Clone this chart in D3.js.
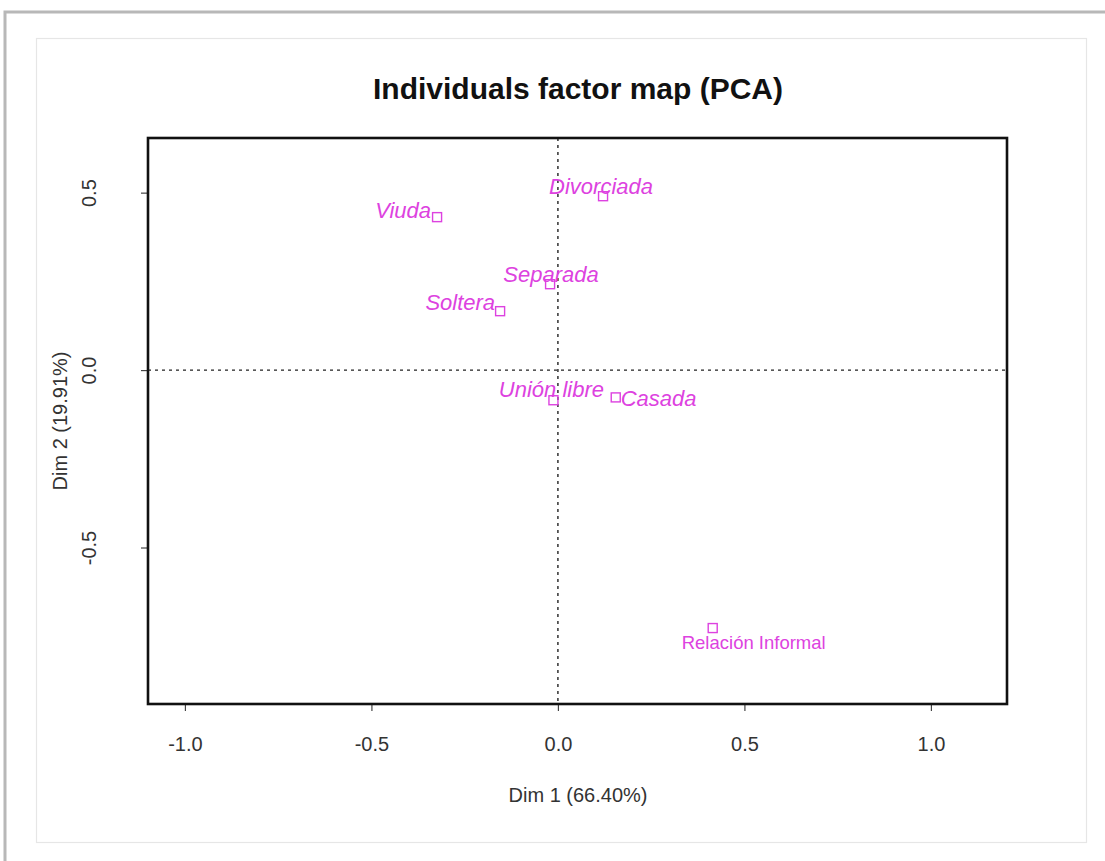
<!DOCTYPE html>
<html>
<head>
<meta charset="utf-8">
<script src="https://cdn.jsdelivr.net/npm/d3@7"></script>
<style>
  html, body { margin: 0; padding: 0; background: #fff; }
  svg { display: block; font-family: "Liberation Sans", Arial, sans-serif; }
</style>
</head>
<body>
<div id="svg-container"></div>
<script>
////////////////////////////////////////////////////////////////////
////////////////////////////  Data  ////////////////////////////////
const names = ["Viuda", "Divorciada", "Separada", "Soltera", "Unión libre", "Casada", "Relación Informal"];
const dim1 = [-0.324, 0.121, -0.021, -0.155, -0.012, 0.155, 0.415];
const dim2 = [0.431, 0.49, 0.242, 0.166, -0.085, -0.077, -0.727];
const supplementary = [true, true, true, true, true, true, false];

const xTicks = [-1.0, -0.5, 0.0, 0.5, 1.0];
const yTicks = [-0.5, 0.0, 0.5];

const title = "Individuals factor map (PCA)";
const xTitle = "Dim 1 (66.40%)";
const yTitle = "Dim 2 (19.91%)";

// label placement (anchor + offset from the point, px)
const labelPlace = [
  { anchor: "end", dx: -6, dy: 1 },
  { anchor: "middle", dx: -2, dy: -2 },
  { anchor: "middle", dx: 1, dy: -2 },
  { anchor: "end", dx: -5, dy: -1 },
  { anchor: "middle", dx: -2, dy: -3 },
  { anchor: "start", dx: 5, dy: 9 },
  { anchor: "middle", dx: 41, dy: 21 }
];

const data = names.map((n, i) => ({ name: n, x: dim1[i], y: dim2[i], sup: supplementary[i], ...labelPlace[i] }));

////////////////////////////////////////////////////////////////////
////////////////////////////  Init  ////////////////////////////////
const width = 1105, height = 861;
const svg = d3.select("#svg-container").append("svg")
  .attr("width", width).attr("height", height);

const magenta = "#dd42e0";
const axisText = "#333";

// card shadow + inner frame
svg.append("rect").attr("x", 5).attr("y", 12).attr("width", width).attr("height", height)
  .attr("fill", "none").attr("stroke", "#9a9a9a").attr("stroke-width", 3).attr("opacity", 0.7);
svg.append("rect").attr("x", 8).attr("y", 15).attr("width", width).attr("height", height)
  .attr("fill", "#fff");
svg.append("rect").attr("x", 36.5).attr("y", 38.5).attr("width", 1050).attr("height", 804)
  .attr("fill", "#fff").attr("stroke", "#e6e6e6").attr("stroke-width", 1.2);

const box = { left: 148, right: 1007, top: 138, bottom: 704 };

const xScale = d3.scaleLinear().domain([-1.099, 1.204]).range([box.left, box.right]);
const yScale = d3.scaleLinear().domain([-0.941, 0.654]).range([box.bottom, box.top]);

const fmt = (d) => d.toFixed(1); // keeps the plain hyphen like R

// axes
const xAxis = d3.axisBottom(xScale).tickValues(xTicks).tickFormat(fmt)
  .tickSize(7).tickPadding(26).tickSizeOuter(0);
const yAxis = d3.axisLeft(yScale).tickValues(yTicks).tickFormat(fmt)
  .tickSize(7).tickSizeOuter(0);

const gx = svg.append("g").attr("transform", `translate(0,${box.bottom})`).call(xAxis);
gx.select(".domain").remove();
gx.selectAll("line").attr("stroke", "#444").attr("stroke-width", 1.2);
gx.selectAll("text").attr("font-size", 20).attr("fill", axisText)
  .attr("font-family", "Liberation Sans, Arial, sans-serif");

const gy = svg.append("g").attr("transform", `translate(${box.left},0)`).call(yAxis);
gy.select(".domain").remove();
gy.selectAll("line").attr("stroke", "#444").attr("stroke-width", 1.2);
gy.selectAll("text").attr("font-size", 20).attr("fill", axisText)
  .attr("font-family", "Liberation Sans, Arial, sans-serif")
  .attr("text-anchor", "middle").attr("dy", "0.35em")
  .attr("x", 0).attr("y", 0)
  .attr("transform", "translate(-59,0) rotate(-90)");

// reference lines
svg.append("line")
  .attr("x1", xScale(0)).attr("x2", xScale(0))
  .attr("y1", box.top).attr("y2", box.bottom)
  .attr("stroke", "#222").attr("stroke-width", 1.4).attr("stroke-dasharray", "3,4");
svg.append("line")
  .attr("x1", box.left).attr("x2", box.right)
  .attr("y1", yScale(0)).attr("y2", yScale(0))
  .attr("stroke", "#222").attr("stroke-width", 1.4).attr("stroke-dasharray", "3,4");

// plot box
svg.append("rect")
  .attr("x", box.left).attr("y", box.top)
  .attr("width", box.right - box.left).attr("height", box.bottom - box.top)
  .attr("fill", "none").attr("stroke", "#111").attr("stroke-width", 2.6);

// titles
svg.append("text").attr("x", 578).attr("y", 99).attr("text-anchor", "middle")
  .attr("font-size", 30).attr("font-weight", "bold").attr("fill", "#111").text(title);
svg.append("text").attr("x", 578).attr("y", 802).attr("text-anchor", "middle")
  .attr("font-size", 20).attr("fill", axisText).text(xTitle);
svg.append("text").attr("transform", "translate(67,421) rotate(-90)").attr("text-anchor", "middle")
  .attr("font-size", 20).attr("fill", axisText).text(yTitle);

// points
svg.selectAll(".pt").data(data).join("rect")
  .attr("class", "pt")
  .attr("x", (d) => xScale(d.x) - 4.5).attr("y", (d) => yScale(d.y) - 4.5)
  .attr("width", 9).attr("height", 9)
  .attr("fill", "none").attr("stroke", magenta).attr("stroke-width", 1.4);

// labels
svg.selectAll(".lab").data(data).join("text")
  .attr("class", "lab")
  .attr("x", (d) => xScale(d.x) + d.dx).attr("y", (d) => yScale(d.y) + d.dy)
  .attr("text-anchor", (d) => d.anchor)
  .attr("font-size", (d) => (d.sup ? 22 : 18.5))
  .attr("font-style", (d) => (d.sup ? "italic" : "normal"))
  .attr("fill", magenta)
  .text((d) => d.name);
</script>
</body>
</html>
